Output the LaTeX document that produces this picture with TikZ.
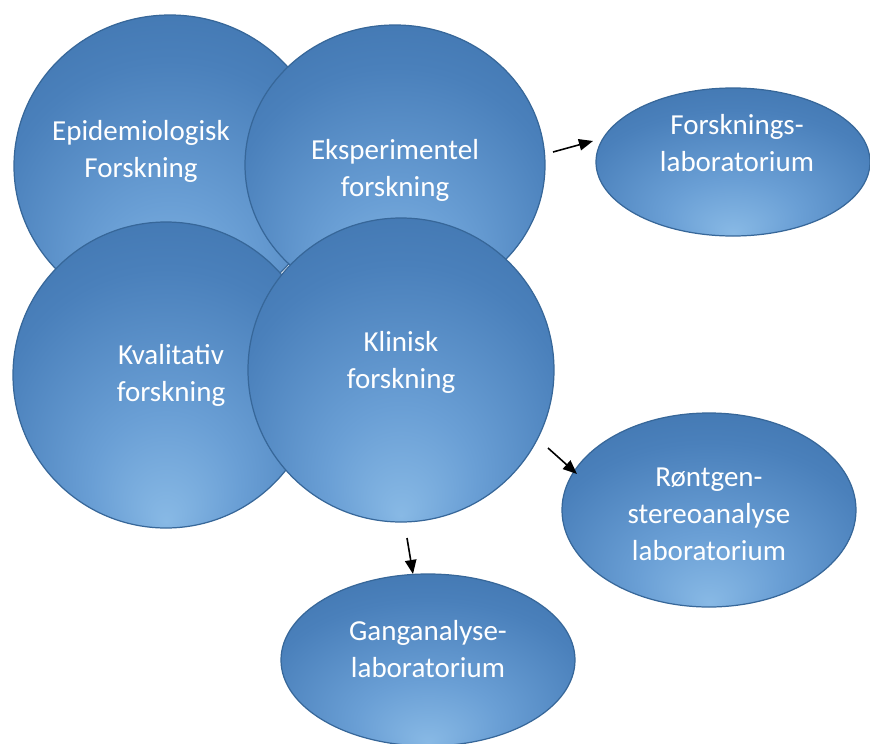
\documentclass[tikz,border=0pt]{standalone}
\usepackage{fontspec}
\setmainfont{Carlito}
\usepackage{xcolor}
\usepackage{tikz}
\usetikzlibrary{shapes.geometric,arrows.meta}

\definecolor{blobhi}{HTML}{88B9E5}
\definecolor{bloblt}{HTML}{6A9FD5}
\definecolor{blobmd}{HTML}{4A80BB}
\definecolor{blobdk}{HTML}{3A6EA7}
\definecolor{blobrim}{HTML}{376799}
\pgfdeclareradialshading{blobshade}{\pgfpoint{0bp}{-24bp}}{%
  color(0bp)=(blobhi); color(12bp)=(bloblt); color(28bp)=(blobmd);
  color(44bp)=(blobdk); color(50bp)=(blobdk)}

\tikzset{
  blob/.style={ellipse,draw=blobrim,line width=0.7pt,shading=blobshade,inner sep=0pt},
  sz/.style 2 args={minimum width=#1*0.02cm,minimum height=#2*0.02cm},
  txt/.style={text=white,align=center,font=\fontsize{16.5}{21}\selectfont},
  arr/.style={-{Triangle[length=8pt,width=6.5pt]},line width=0.9pt}
}

\begin{document}
\begin{tikzpicture}[x=0.02cm,y=-0.02cm]
    \useasboundingbox (0,0) rectangle (870,744);
    % research circles
    \node[blob,sz={312}{302}] (epi) at (170,166) {};
    \node[blob,sz={300}{280}] (eksp) at (395,165) {};
    \node[blob,sz={306}{306}] (kval) at (166,375) {};
    \node[blob,sz={306}{304}] (klin) at (401,370) {};
    \node[txt] (epitxt) at (141,151) {Epidemiologisk\\Forskning};
    \node[txt] (eksptxt) at (395,170) {Eksperimentel\\forskning};
    \node[txt] (kvaltxt) at (171,375) {Kvalitativ\\forskning};
    \node[txt] (klintxt) at (401,362) {Klinisk\\forskning};
    % laboratories
    \node[blob,sz={274}{148}] (forsk) at (733,162) {};
    \node[blob,sz={294}{194}] (rontgen) at (709,510) {};
    \node[blob,sz={294}{172}] (gang) at (428,660) {};
    \node[txt] (forsktxt) at (737,143) {Forsknings-\\laboratorium};
    \node[txt] (rontgentxt) at (709,514) {Røntgen-\\stereoanalyse\\laboratorium};
    \node[txt] (gangtxt) at (428,649) {Ganganalyse-\\laboratorium};
    % arrows
    \coordinate (a1s) at (553,152);
    \coordinate (a1e) at (593,141);
    \coordinate (a2s) at (548,448);
    \coordinate (a2e) at (577,474);
    \coordinate (a3s) at (407,538);
    \coordinate (a3e) at (413,574);
    \draw[arr] (a1s) -- (a1e);
    \draw[arr] (a2s) -- (a2e);
    \draw[arr] (a3s) -- (a3e);
\end{tikzpicture}
\end{document}
